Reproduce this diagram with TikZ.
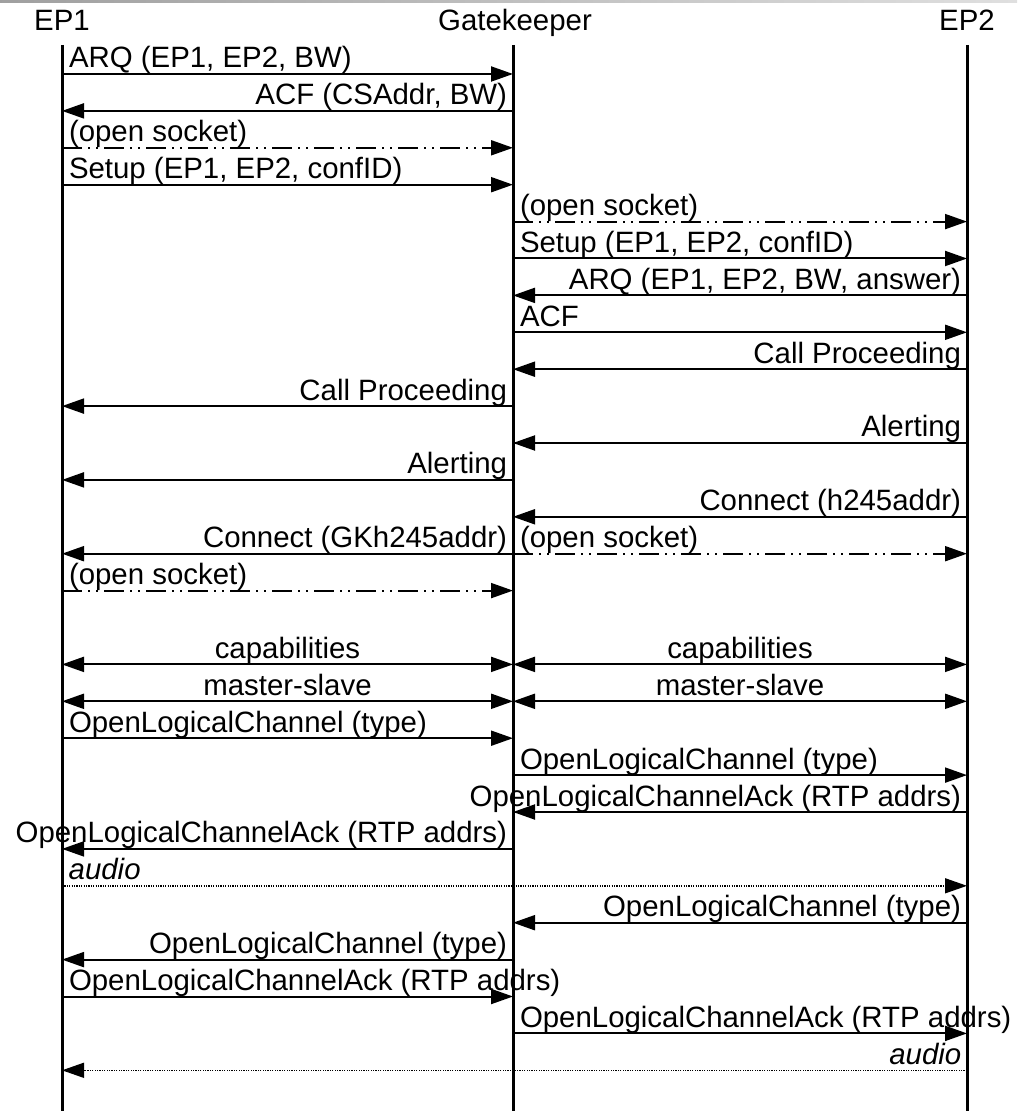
\documentclass[tikz,border=0pt]{standalone}
\usepackage{fontspec}
\setmainfont{Liberation Sans}
\usetikzlibrary{arrows.meta}

\tikzset{
  >={Triangle[length=11pt,width=7.5pt]},
  life/.style={line width=1.5pt},
  msg/.style={->,line width=1pt},
  sock/.style={msg,dash pattern=on 10pt off 3pt on 1pt off 3pt on 1pt off 3pt},
  media/.style={->,line width=0.7pt,dash pattern=on 0.6pt off 0.6pt},
  both/.style={<->,line width=1pt},
  txtl/.style={pos=0,anchor=base west,inner sep=0pt,xshift=3pt,yshift=3pt},
  txtr/.style={pos=0,anchor=base east,inner sep=0pt,xshift=-2.5pt,yshift=3pt},
  txtc/.style={midway,anchor=base,inner sep=0pt,yshift=3pt},
  head/.style={anchor=base,inner sep=0pt}
}

\begin{document}
\begin{tikzpicture}[x=0.5pt,y=-0.5pt,font=\fontsize{14.7pt}{17pt}\selectfont]

    \useasboundingbox (0,0) rectangle (1017,1111);
    \shade[left color=gray!75,right color=gray!25] (0,0) rectangle (1017,3);

    % the three parties
    \node[head] (EP1) at (62,31) {EP1};
    \node[head] (GK) at (515,31) {Gatekeeper};
    \node[head] (EP2) at (967,31) {EP2};
    \draw[life] (62,45) coordinate (EP1top) -- (62,1111) coordinate (EP1end);
    \draw[life] (513,45) coordinate (GKtop) -- (513,1111) coordinate (GKend);
    \draw[life] (967,45) coordinate (EP2top) -- (967,1111) coordinate (EP2end);

    % one row of points per message
    \foreach \r in {1,...,28}{
      \coordinate (a\r) at (62,{74+36.9*(\r-1)});
      \coordinate (g\r) at (513,{74+36.9*(\r-1)});
      \coordinate (b\r) at (967,{74+36.9*(\r-1)});
    }

    % admission and call setup
    \draw[msg] (a1) -- (g1) node[txtl] {ARQ (EP1, EP2, BW)};
    \draw[msg] (g2) -- (a2) node[txtr] {ACF (CSAddr, BW)};
    \draw[sock] (a3) -- (g3) node[txtl] {(open socket)};
    \draw[msg] (a4) -- (g4) node[txtl] {Setup (EP1, EP2, confID)};
    \draw[sock] (g5) -- (b5) node[txtl] {(open socket)};
    \draw[msg] (g6) -- (b6) node[txtl] {Setup (EP1, EP2, confID)};
    \draw[msg] (b7) -- (g7) node[txtr] {ARQ (EP1, EP2, BW, answer)};
    \draw[msg] (g8) -- (b8) node[txtl] {ACF};
    \draw[msg] (b9) -- (g9) node[txtr] {Call Proceeding};
    \draw[msg] (g10) -- (a10) node[txtr] {Call Proceeding};
    \draw[msg] (b11) -- (g11) node[txtr] {Alerting};
    \draw[msg] (g12) -- (a12) node[txtr] {Alerting};
    \draw[msg] (b13) -- (g13) node[txtr] {Connect (h245addr)};
    \draw[msg] (g14) -- (a14) node[txtr] {Connect (GKh245addr)};
    \draw[sock] (g14) -- (b14) node[txtl] {(open socket)};
    \draw[sock] (a15) -- (g15) node[txtl] {(open socket)};

    % h245
    \draw[both] (a17) -- (g17) node[txtc] {capabilities};
    \draw[both] (g17) -- (b17) node[txtc] {capabilities};
    \draw[both] (a18) -- (g18) node[txtc] {master-slave};
    \draw[both] (g18) -- (b18) node[txtc] {master-slave};
    \draw[msg] (a19) -- (g19) node[txtl] {OpenLogicalChannel (type)};
    \draw[msg] (g20) -- (b20) node[txtl] {OpenLogicalChannel (type)};
    \draw[msg] (b21) -- (g21) node[txtr] {OpenLogicalChannelAck (RTP addrs)};
    \draw[msg] (g22) -- (a22) node[txtr] {OpenLogicalChannelAck (RTP addrs)};
    \draw[media] (a23) -- (b23) node[txtl] {\itshape audio};
    \draw[msg] (b24) -- (g24) node[txtr] {OpenLogicalChannel (type)};
    \draw[msg] (g25) -- (a25) node[txtr] {OpenLogicalChannel (type)};
    \draw[msg] (a26) -- (g26) node[txtl] {OpenLogicalChannelAck (RTP addrs)};
    \draw[msg] (g27) -- (b27) node[txtl] {OpenLogicalChannelAck (RTP addrs)};
    \draw[media] (b28) -- (a28) node[txtr] {\itshape audio};

\end{tikzpicture}
\end{document}
